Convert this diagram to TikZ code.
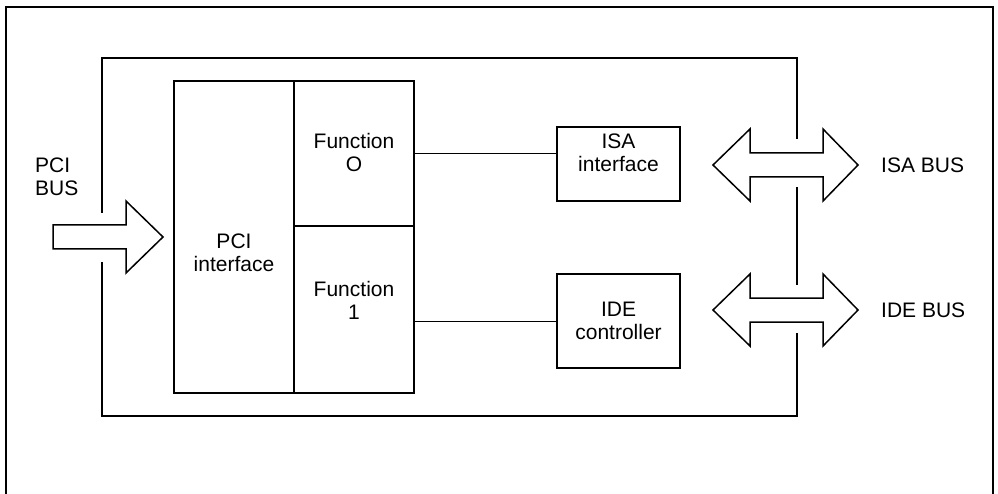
\documentclass[tikz,border=0pt]{standalone}
\usepackage{fontspec}
\setmainfont{Liberation Sans}
\begin{document}
\begin{tikzpicture}[x=1pt,y=-1pt,
    box/.style={draw=black,line width=2pt,inner sep=0pt,outer sep=0pt},
    txt/.style={inner sep=0pt,align=center,font=\fontsize{21}{23}\selectfont},
    frame/.style={line width=2pt},
    bus/.style={draw=black,line width=1.5pt,line join=miter}]
    	\useasboundingbox (0,0) rectangle (998,494);
    	
    	% outer frame
    	\draw[frame] (6,494) -- (6,7) -- (993,7) -- (993,494);
    	
    	% board
    	\draw[frame] (102,213) -- (102,58) -- (797,58) -- (797,139);
    	\draw[frame] (797,187) -- (797,285);
    	\draw[frame] (797,333) -- (797,416) -- (102,416) -- (102,262);
    	
    	\node[box,minimum width=120pt,minimum height=312pt] (pci) at (234,237) {};
    	\node[box,minimum width=120pt,minimum height=145pt] (fun0) at (354,153.5) {};
    	\node[box,minimum width=120pt,minimum height=167pt] (fun1) at (354,309.5) {};
    	\node[box,minimum width=123pt,minimum height=74pt] (isa) at (618.5,164) {};
    	\node[box,minimum width=123pt,minimum height=94pt] (ide) at (618.5,321) {};
    	
    	\node[txt] (pcitxt) at (234,253) {PCI\\interface};
    	\node[txt] (fun0txt) at (354,152.5) {Function\\O};
    	\node[txt] (fun1txt) at (354,300) {Function\\1};
    	\node[txt] (isatxt) at (618.5,153) {ISA\\interface};
    	\node[txt] (idetxt) at (618.5,321) {IDE\\controller};
    	
    	\node[txt,align=left,anchor=west] (pcibus) at (35,177) {PCI\\BUS};
    	\node[txt,anchor=west] (isabus) at (881,165) {ISA BUS};
    	\node[txt,anchor=west] (idebus) at (881,310) {IDE BUS};
    	
    	\path[-, line width=1pt] (fun0.east) edge (isa.west |- fun0.east);
    	\path[-, line width=1pt] (fun1.east |- ide.west) edge (ide.west);
    	
    	% bus arrows
    	\draw[bus] (53,225) -- (126,225) -- (126,201) -- (163,237) -- (126,273) -- (126,249) -- (53,249) -- cycle;
    	\draw[bus] (713,165) -- (750,129) -- (750,153) -- (823,153) -- (823,129) -- (858,165)
    	    -- (823,201) -- (823,177) -- (750,177) -- (750,201) -- cycle;
    	\draw[bus] (713,310) -- (750,274) -- (750,298) -- (823,298) -- (823,274) -- (858,310)
    	    -- (823,346) -- (823,322) -- (750,322) -- (750,346) -- cycle;
    	
\end{tikzpicture}
\end{document}
